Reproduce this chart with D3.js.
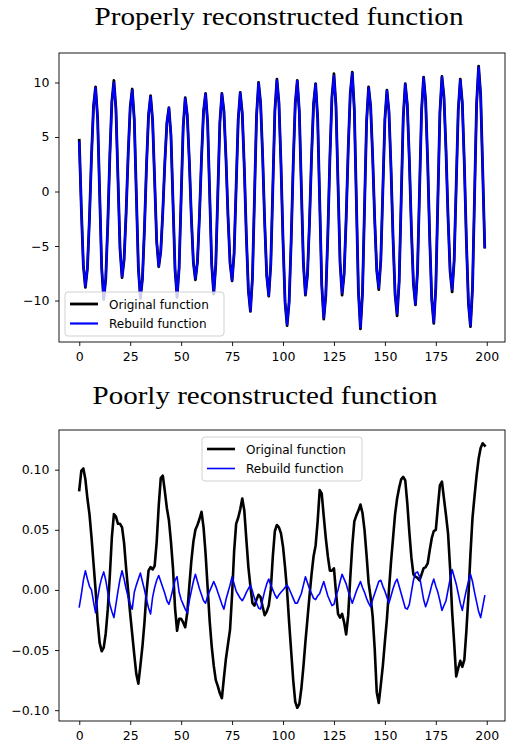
<!DOCTYPE html>
<html><head><meta charset="utf-8">
<script src="https://cdn.jsdelivr.net/npm/d3@7"></script>
<style>body{margin:0;background:#fff}svg{display:block}</style>
</head><body><svg id="c" width="506" height="744"></svg>
<script>
const topTitle = "Properly reconstructed function";
const bottomTitle = "Poorly reconstructed function";
const seriesNames = ["Original function", "Rebuild function"];
const xTicks = [0, 25, 50, 75, 100, 125, 150, 175, 200];
const topYTicks = [-10, -5, 0, 5, 10];
const bottomYTicks = [-0.10, -0.05, 0.00, 0.05, 0.10];

const topOriginal = [4.7,-1.5,-6.8,-8.8,-7.05,-2.45,3.25,7.85,9.6,6.75,-0.15,-7.05,-9.9,-8.0,-2.97,3.27,8.29,10.2,7.56,1.15,
-5.26,-7.9,-6.26,-1.93,3.43,7.76,9.4,6.6,-0.2,-7.0,-9.8,-8.03,-3.38,2.38,7.03,8.8,6.51,0.95,-4.61,-6.9,
-5.51,-1.86,2.66,6.31,7.7,5.16,-1.0,-7.16,-9.7,-7.03,-0.55,5.93,8.6,7.01,2.84,-2.34,-6.51,-8.1,-6.48,-2.2,
3.1,7.38,9.0,6.31,-0.2,-6.71,-9.4,-6.71,-0.2,6.31,9.0,7.37,3.07,-2.27,-6.57,-8.2,-5.67,0.45,6.57,9.1,
7.19,2.17,-4.07,-9.09,-11.0,-7.93,-0.5,6.93,10.0,8.14,3.24,-2.84,-7.74,-9.6,-6.69,0.35,7.39,10.3,8.15,2.5,
-4.5,-10.15,-12.3,-10.16,-4.54,2.44,8.06,10.2,7.32,0.35,-6.62,-9.5,-7.66,-2.81,3.21,8.06,9.9,6.75,-0.9,-8.55,
-11.7,-9.56,-3.94,3.04,8.66,10.8,7.84,0.65,-6.54,-9.5,-7.56,-2.44,3.9,9.0,10.95,7.51,-0.83,-9.16,-12.6,-9.36,
-1.5,6.36,9.6,7.83,3.18,-2.58,-7.23,-9.0,-6.33,0.15,6.63,9.3,7.33,2.16,-4.26,-9.43,-11.4,-8.29,-0.75,6.79,
9.9,7.97,2.9,-3.4,-8.47,-10.4,-7.35,0.05,7.45,10.5,8.35,2.7,-4.3,-9.95,-12.1,-8.79,-0.78,7.24,10.55,8.67,
3.74,-2.39,-7.32,-9.2,-6.35,0.55,7.45,10.3,8.14,2.47,-4.57,-10.24,-12.4,-8.91,-0.45,8.01,11.5,8.9,2.0,-5.1];

const topRebuild = [4.5,-1.5,-6.7,-8.7,-7.0,-2.45,3.25,7.8,9.5,6.7,-0.15,-7.0,-9.8,-8.0,-2.97,3.27,8.2,10.0,7.5,1.15,
-5.2,-7.8,-6.2,-1.93,3.4,7.7,9.3,6.6,-0.2,-7.0,-9.7,-8.0,-3.38,2.38,7.0,8.7,6.5,0.95,-4.6,-6.85,
-5.5,-1.86,2.66,6.3,7.65,5.16,-1.0,-7.1,-9.6,-7.0,-0.55,5.9,8.55,7.0,2.84,-2.34,-6.5,-8.0,-6.45,-2.2,
3.1,7.35,8.95,6.3,-0.2,-6.7,-9.35,-6.7,-0.2,6.3,8.95,7.35,3.07,-2.27,-6.55,-8.15,-5.65,0.45,6.55,9.05,
7.15,2.17,-4.07,-9.05,-10.95,-7.9,-0.5,6.9,9.95,8.1,3.24,-2.84,-7.7,-9.55,-6.65,0.35,7.35,10.2,8.1,2.5,
-4.5,-10.1,-12.2,-10.1,-4.54,2.44,8.0,10.15,7.3,0.35,-6.6,-9.45,-7.6,-2.81,3.2,8.0,9.85,6.7,-0.9,-8.5,
-11.6,-9.5,-3.94,3.04,8.6,10.6,7.8,0.65,-6.5,-9.3,-7.5,-2.44,3.9,8.95,10.85,7.5,-0.83,-9.1,-12.5,-9.3,
-1.5,6.35,9.5,7.8,3.18,-2.58,-7.2,-8.85,-6.3,0.15,6.6,9.25,7.3,2.16,-4.26,-9.35,-11.2,-8.2,-0.75,6.75,
9.85,7.95,2.9,-3.4,-8.4,-10.35,-7.3,0.05,7.4,10.45,8.3,2.7,-4.3,-9.9,-12.0,-8.75,-0.78,7.2,10.5,8.6,
3.74,-2.39,-7.25,-9.0,-6.3,0.55,7.4,10.25,8.1,2.47,-4.55,-10.2,-12.3,-8.85,-0.45,7.95,11.4,8.85,2.0,-5.1];

const bottomOriginal = [0.083,0.099,0.101,0.092,0.076,0.063,0.044,0.022,0.000,-0.026,-0.044,-0.051,-0.048,-0.036,-0.016,0.012,0.044,0.063,0.061,0.055,
0.055,0.052,0.039,0.018,-0.001,-0.020,-0.037,-0.054,-0.070,-0.078,-0.063,-0.047,-0.027,-0.002,0.016,0.019,0.017,0.020,0.040,0.070,
0.093,0.095,0.082,0.068,0.058,0.040,0.018,-0.015,-0.034,-0.024,-0.024,-0.027,-0.031,-0.019,0.003,0.024,0.040,0.050,0.054,0.059,
0.065,0.052,0.030,0.002,-0.026,-0.047,-0.063,-0.075,-0.080,-0.086,-0.090,-0.073,-0.057,-0.045,-0.033,-0.004,0.032,0.055,0.060,0.067,
0.076,0.066,0.042,0.019,0.003,-0.011,-0.013,-0.008,-0.004,-0.006,-0.014,-0.021,-0.018,-0.013,0.000,0.028,0.049,0.054,0.052,0.047,
0.036,0.019,-0.001,-0.027,-0.051,-0.075,-0.093,-0.098,-0.095,-0.082,-0.064,-0.043,-0.024,-0.005,0.013,0.028,0.037,0.057,0.083,0.080,
0.061,0.043,0.028,0.016,0.016,0.018,-0.002,-0.020,-0.023,-0.020,-0.027,-0.037,-0.021,0.010,0.037,0.057,0.062,0.066,0.071,0.064,
0.050,0.029,0.006,-0.006,-0.022,-0.049,-0.085,-0.094,-0.079,-0.063,-0.043,-0.024,0.000,0.023,0.043,0.063,0.076,0.085,0.092,0.094,
0.091,0.072,0.048,0.027,0.013,0.011,0.010,0.008,0.013,0.018,0.019,0.022,0.033,0.043,0.049,0.050,0.069,0.087,0.090,0.076,
0.062,0.047,0.018,-0.018,-0.044,-0.072,-0.065,-0.059,-0.064,-0.058,-0.034,-0.005,0.030,0.060,0.078,0.095,0.109,0.118,0.122,0.120];

const bottomRebuild = [-0.014,-0.004,0.008,0.016,0.009,0.003,0.000,-0.010,-0.019,-0.007,0.003,0.010,0.015,0.008,-0.002,-0.012,-0.018,-0.023,-0.012,-0.001,
0.009,0.016,0.009,0.001,-0.006,-0.012,-0.016,-0.002,0.004,0.009,0.014,0.007,0.000,-0.008,-0.015,-0.020,-0.006,0.002,0.008,0.012,
0.007,0.002,-0.003,-0.009,-0.012,-0.006,0.001,0.008,0.011,-0.002,-0.008,-0.012,-0.016,-0.019,-0.009,-0.001,0.007,0.013,0.007,0.001,
-0.004,-0.009,-0.011,-0.005,-0.001,0.003,0.007,0.003,-0.002,-0.007,-0.012,-0.016,-0.008,-0.002,0.004,0.011,0.005,-0.001,-0.004,-0.007,
-0.009,-0.006,-0.002,0.001,0.004,-0.001,-0.007,-0.011,-0.015,-0.016,-0.008,-0.001,0.005,0.009,0.004,0.000,-0.004,-0.007,-0.004,-0.002,
0.000,0.002,0.004,0.001,-0.003,-0.007,-0.011,-0.011,-0.007,-0.003,0.004,0.011,0.006,0.001,-0.003,-0.007,-0.008,-0.005,-0.003,0.002,
0.007,0.001,-0.005,-0.009,-0.013,-0.012,-0.005,0.000,0.007,0.013,0.009,0.005,-0.001,-0.006,-0.011,-0.006,-0.001,0.003,0.007,0.002,
-0.002,-0.007,-0.011,-0.014,-0.008,-0.003,0.002,0.007,0.008,0.003,-0.001,-0.006,-0.011,-0.005,0.001,0.006,0.009,0.003,-0.003,-0.009,
-0.015,-0.016,-0.012,-0.002,0.008,0.014,0.015,0.011,0.002,-0.008,-0.014,-0.009,-0.003,0.004,0.009,0.003,-0.002,-0.009,-0.017,-0.013,
-0.009,0.000,0.009,0.017,0.011,0.005,-0.003,-0.011,-0.017,-0.008,0.000,0.007,0.013,0.007,-0.002,-0.010,-0.018,-0.023,-0.014,-0.005];

const svg = d3.select("#c");
const minus = s => s.replace(/-/g, "\u2212");

function panel(box, orig, rebuild, yTicks, yFmt, title, titleX, titleY, titleLen, legend, widths) {
  const n = orig.length;
  const xPad = 0.05 * (n - 1);
  const x = d3.scaleLinear().domain([-xPad, n - 1 + xPad]).range([box.l, box.r]);
  const ext = d3.extent(orig.concat(rebuild));
  const yPad = 0.05 * (ext[1] - ext[0]);
  const y = d3.scaleLinear().domain([ext[0] - yPad, ext[1] + yPad]).range([box.b, box.t]);
  const g = svg.append("g");
  const clipId = "clip" + box.t;
  g.append("clipPath").attr("id", clipId).append("rect")
    .attr("x", box.l).attr("y", box.t).attr("width", box.r - box.l).attr("height", box.b - box.t);
  const line = d3.line().x((d, i) => x(i)).y(d => y(d));
  const plot = g.append("g").attr("clip-path", `url(#${clipId})`);
  plot.append("path").datum(orig).attr("d", line).attr("fill", "none")
    .attr("stroke", "#000").attr("stroke-width", widths[0]).attr("stroke-linejoin", "round").attr("stroke-linecap", "square");
  plot.append("path").datum(rebuild).attr("d", line).attr("fill", "none")
    .attr("stroke", "#0000ff").attr("stroke-width", widths[1]).attr("stroke-linejoin", "round").attr("stroke-linecap", "square");

  const xAxis = d3.axisBottom(x).tickValues(xTicks).tickSize(4).tickPadding(6).tickFormat(d3.format("d"));
  const gx = g.append("g").attr("transform", `translate(0,${box.b})`).call(xAxis);
  const yAxis = d3.axisLeft(y).tickValues(yTicks).tickSize(4).tickPadding(5.5).tickFormat(d => minus(yFmt(d)));
  const gy = g.append("g").attr("transform", `translate(${box.l},0)`).call(yAxis);
  [gx, gy].forEach(a => {
    a.select(".domain").remove();
    a.selectAll("line").attr("stroke", "#000").attr("stroke-width", 0.9);
    a.selectAll("text").attr("font-family", "DejaVu Sans").attr("font-size", 12.5).attr("fill", "#000");
  });
  g.append("rect").attr("x", box.l).attr("y", box.t).attr("width", box.r - box.l).attr("height", box.b - box.t)
    .attr("fill", "none").attr("stroke", "#000").attr("stroke-width", 0.9);

  g.append("text").attr("x", titleX).attr("y", titleY).attr("text-anchor", "middle")
    .attr("font-family", "Liberation Serif").attr("font-size", 24.5).attr("fill", "#000")
    .attr("textLength", titleLen).attr("lengthAdjust", "spacingAndGlyphs").text(title);

  const lg = g.append("g");
  lg.append("rect").attr("x", legend.x).attr("y", legend.y).attr("width", legend.w).attr("height", legend.h)
    .attr("rx", 3).attr("fill", "#fff").attr("fill-opacity", 0.8).attr("stroke", "#cccccc").attr("stroke-width", 0.9);
  [[ "#000", widths[0]], ["#0000ff", widths[1]]].forEach((s, i) => {
    const yy = legend.y + 12 + i * 19.5;
    lg.append("line").attr("x1", legend.x + 5).attr("x2", legend.x + 33).attr("y1", yy).attr("y2", yy)
      .attr("stroke", s[0]).attr("stroke-width", s[1]);
    lg.append("text").attr("x", legend.x + 44).attr("y", yy + 4.5).attr("font-family", "DejaVu Sans")
      .attr("font-size", 12).attr("fill", "#000").text(seriesNames[i]);
  });
}

panel({l: 59, r: 505, t: 53, b: 342}, topOriginal, topRebuild, topYTicks, d3.format("d"),
  topTitle, 279, 25, 369, {x: 65, y: 292, w: 159, h: 44}, [2.8, 2.2]);
panel({l: 59, r: 505, t: 430, b: 721}, bottomOriginal, bottomRebuild, bottomYTicks, d3.format(".2f"),
  bottomTitle, 265, 404, 345, {x: 202, y: 437, w: 160, h: 44}, [2.6, 1.6]);
</script></body></html>
